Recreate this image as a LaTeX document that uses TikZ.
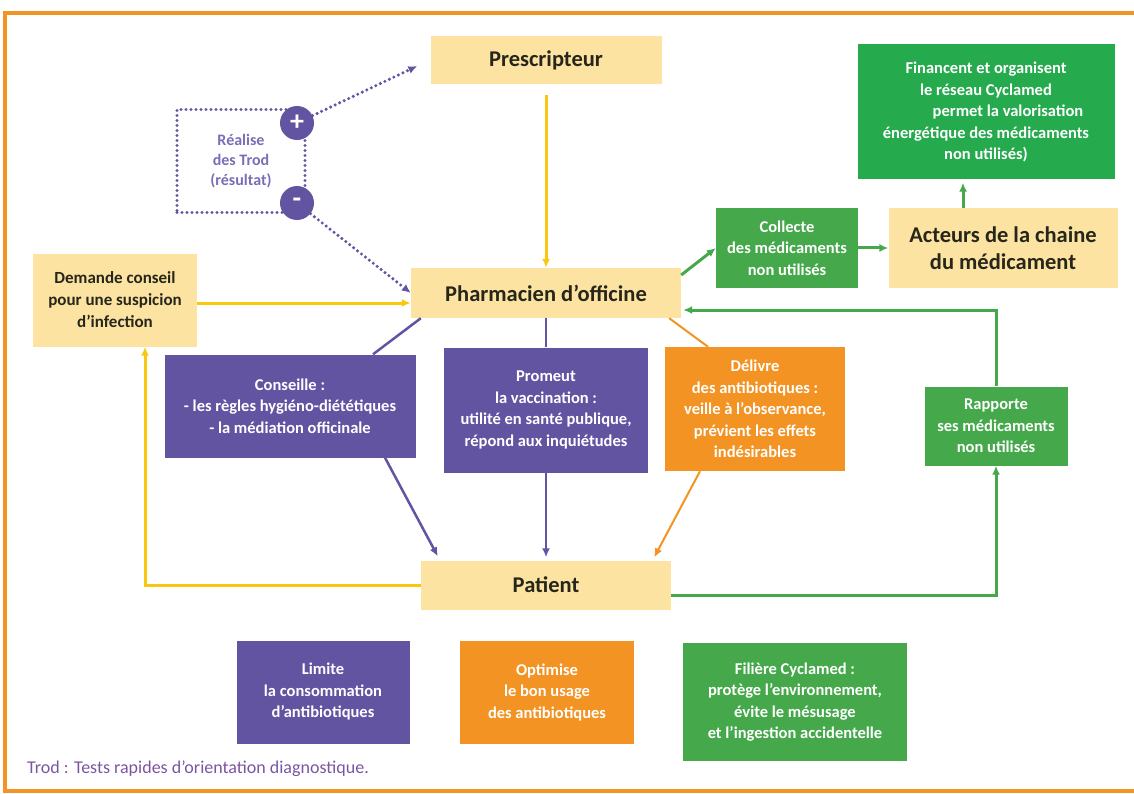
\documentclass[tikz,border=0pt]{standalone}
\usepackage{fontspec}
\setmainfont{Carlito}
\usetikzlibrary{positioning,arrows.meta}
\definecolor{cjaune}{HTML}{FCE3A2}
\definecolor{cjaunetrait}{HTML}{F9C80E}
\definecolor{cviolet}{HTML}{6354A2}
\definecolor{cvioletclair}{HTML}{7C6DB5}
\definecolor{corange}{HTML}{F39323}
\definecolor{cvert}{HTML}{45A84B}
\definecolor{cvertvif}{HTML}{25AA4E}
\definecolor{ctexte}{HTML}{26261A}
\definecolor{cnote}{HTML}{7A55A3}
\begin{document}
\begin{tikzpicture}[
x=1pt, y=-1pt,
>={Latex[length=9pt,width=8pt]},
every node/.style={
align=center,
inner sep=0pt,
font=\bfseries\fontsize{16.5}{21.5}\selectfont
},
boitejaune/.style={fill=cjaune, text=ctexte, font=\bfseries\fontsize{22.5}{27}\selectfont},
boiteviolette/.style={fill=cviolet, text=white},
boiteorange/.style={fill=corange, text=white},
boiteverte/.style={fill=cvert, text=white},
signe/.style={circle, fill=cviolet, text=white, minimum size=34pt, font=\bfseries\fontsize{28}{28}\selectfont},
pointille/.style={draw=cviolet, line width=3.4pt, line cap=round, dash pattern=on 0pt off 5pt},
]
\useasboundingbox (0,0) rectangle (1134,794);
% cadre
\draw[corange, line width=4pt] (1140,13) -| (5,791) -- (1140,791);

% noeuds principaux
\node[boitejaune, minimum width=231pt, minimum height=48pt] (prescripteur) at (546,60) {Prescripteur};
\node[boitejaune, minimum width=270pt, minimum height=50pt] (pharmacien) at (546,293) {Pharmacien d’officine};
\node[boitejaune, minimum width=250pt, minimum height=49pt] (patient) at (546,585) {Patient};
\node[boitejaune, minimum width=229pt, minimum height=79pt] (acteurs) at (1003,248) {Acteurs de la chaine\\du médicament};
\node[boitejaune, font=\bfseries\fontsize{17}{22}\selectfont, minimum width=164pt, minimum height=93pt] (demande) at (115,300) {Demande conseil\\pour une suspicion\\d’infection};

% Trod
\node[pointille, text=cvioletclair, font=\bfseries\fontsize{16}{20}\selectfont, minimum width=128pt, minimum height=103pt] (trod) at (241,161) {Réalise\\des Trod\\(résultat)};
\node[signe] (plus) at (297,123) {+};
\node[signe] (moins) at (297,203) {-};

% actions du pharmacien
\node[boiteviolette, minimum width=251pt, minimum height=103pt] (conseille) at (290,406) {Conseille :\\- les règles hygiéno-diététiques\\- la médiation officinale};
\node[boiteviolette, minimum width=204pt, minimum height=125pt] (promeut) at (546,410) {Promeut\\la vaccination :\\utilité en santé publique,\\répond aux inquiétudes};
\node[boiteorange, minimum width=180pt, minimum height=124pt] (delivre) at (755,409) {Délivre\\des antibiotiques :\\veille à l’observance,\\prévient les effets\\indésirables};
\node[boiteverte, minimum width=143pt, minimum height=79pt] (rapporte) at (996,426) {Rapporte\\ses médicaments\\non utilisés};
\node[boiteverte, minimum width=142pt, minimum height=79pt] (collecte) at (787,248) {Collecte\\des médicaments\\non utilisés};
\node[boiteverte, fill=cvertvif, minimum width=257pt, minimum height=135pt] (financent) at (986,112) {Financent et organisent\\le réseau Cyclamed\\\hspace*{44pt}permet la valorisation\\énergétique des médicaments\\non utilisés)};

% resultats
\node[boiteviolette, minimum width=173pt, minimum height=103pt] (limite) at (323,692) {Limite\\la consommation\\d’antibiotiques};
\node[boiteorange, minimum width=174pt, minimum height=103pt] (optimise) at (547,692) {Optimise\\le bon usage\\des antibiotiques};
\node[boiteverte, minimum width=224pt, minimum height=118pt] (filiere) at (795,702) {Filière Cyclamed :\\protège l’environnement,\\évite le mésusage\\et l’ingestion accidentelle};

\node[anchor=west, text=cnote, font=\fontsize{18}{20}\selectfont] (note) at (27,769) {Trod : Tests rapides d’orientation diagnostique.};

% fleches
\draw[pointille, ->] (plus) -- ([shift={(-13pt,-6pt)}]prescripteur.west);
\draw[pointille, ->] (moins) -- (pharmacien.west);
\draw[cjaunetrait, line width=3pt, ->] ([yshift=-11pt]prescripteur.south) -- (pharmacien.north);
\draw[cjaunetrait, line width=3pt, ->] ([yshift=-3pt]demande.east) -- ([yshift=-3pt]demande.east -| pharmacien.west);
\draw[cjaunetrait, line width=3pt, ->] (patient.west) -| ([xshift=30pt]demande.south);
\draw[cviolet, line width=2.5pt] ([xshift=10pt]pharmacien.south west) -- ([xshift=83pt]conseille.north);
\draw[cviolet, line width=2.5pt, ->] ([xshift=95pt]conseille.south) -- ([shift={(17pt,4pt)}]patient.north west);
\draw[cviolet, line width=2.5pt] (pharmacien.south) -- (promeut.north);
\draw[cviolet, line width=2.5pt, ->, shorten >=3pt] (promeut.south) -- (patient.north);
\draw[corange, line width=2pt] ([xshift=-12pt]pharmacien.south east) -- ([xshift=-47pt]delivre.north);
\draw[corange, line width=2pt, ->] ([xshift=-55pt]delivre.south) -- ([shift={(-17pt,3pt)}]patient.north east);
\draw[cvert, line width=3pt, ->] ([yshift=-10pt]patient.east) -| (rapporte.south);
\draw[cvert, line width=3pt, ->] (rapporte.north) |- ([shift={(2pt,-17pt)}]pharmacien.east);
\draw[cvert, line width=3pt, ->] ([yshift=18pt]pharmacien.east) -- (collecte.west);
\draw[cvert, line width=3pt, ->] (collecte.east) -- (acteurs.west);
\draw[cvert, line width=3pt, ->, shorten >=3pt] ([xshift=-40pt]acteurs.north) -- ([xshift=-40pt]acteurs.north |- financent.south);
\end{tikzpicture}
\end{document}
